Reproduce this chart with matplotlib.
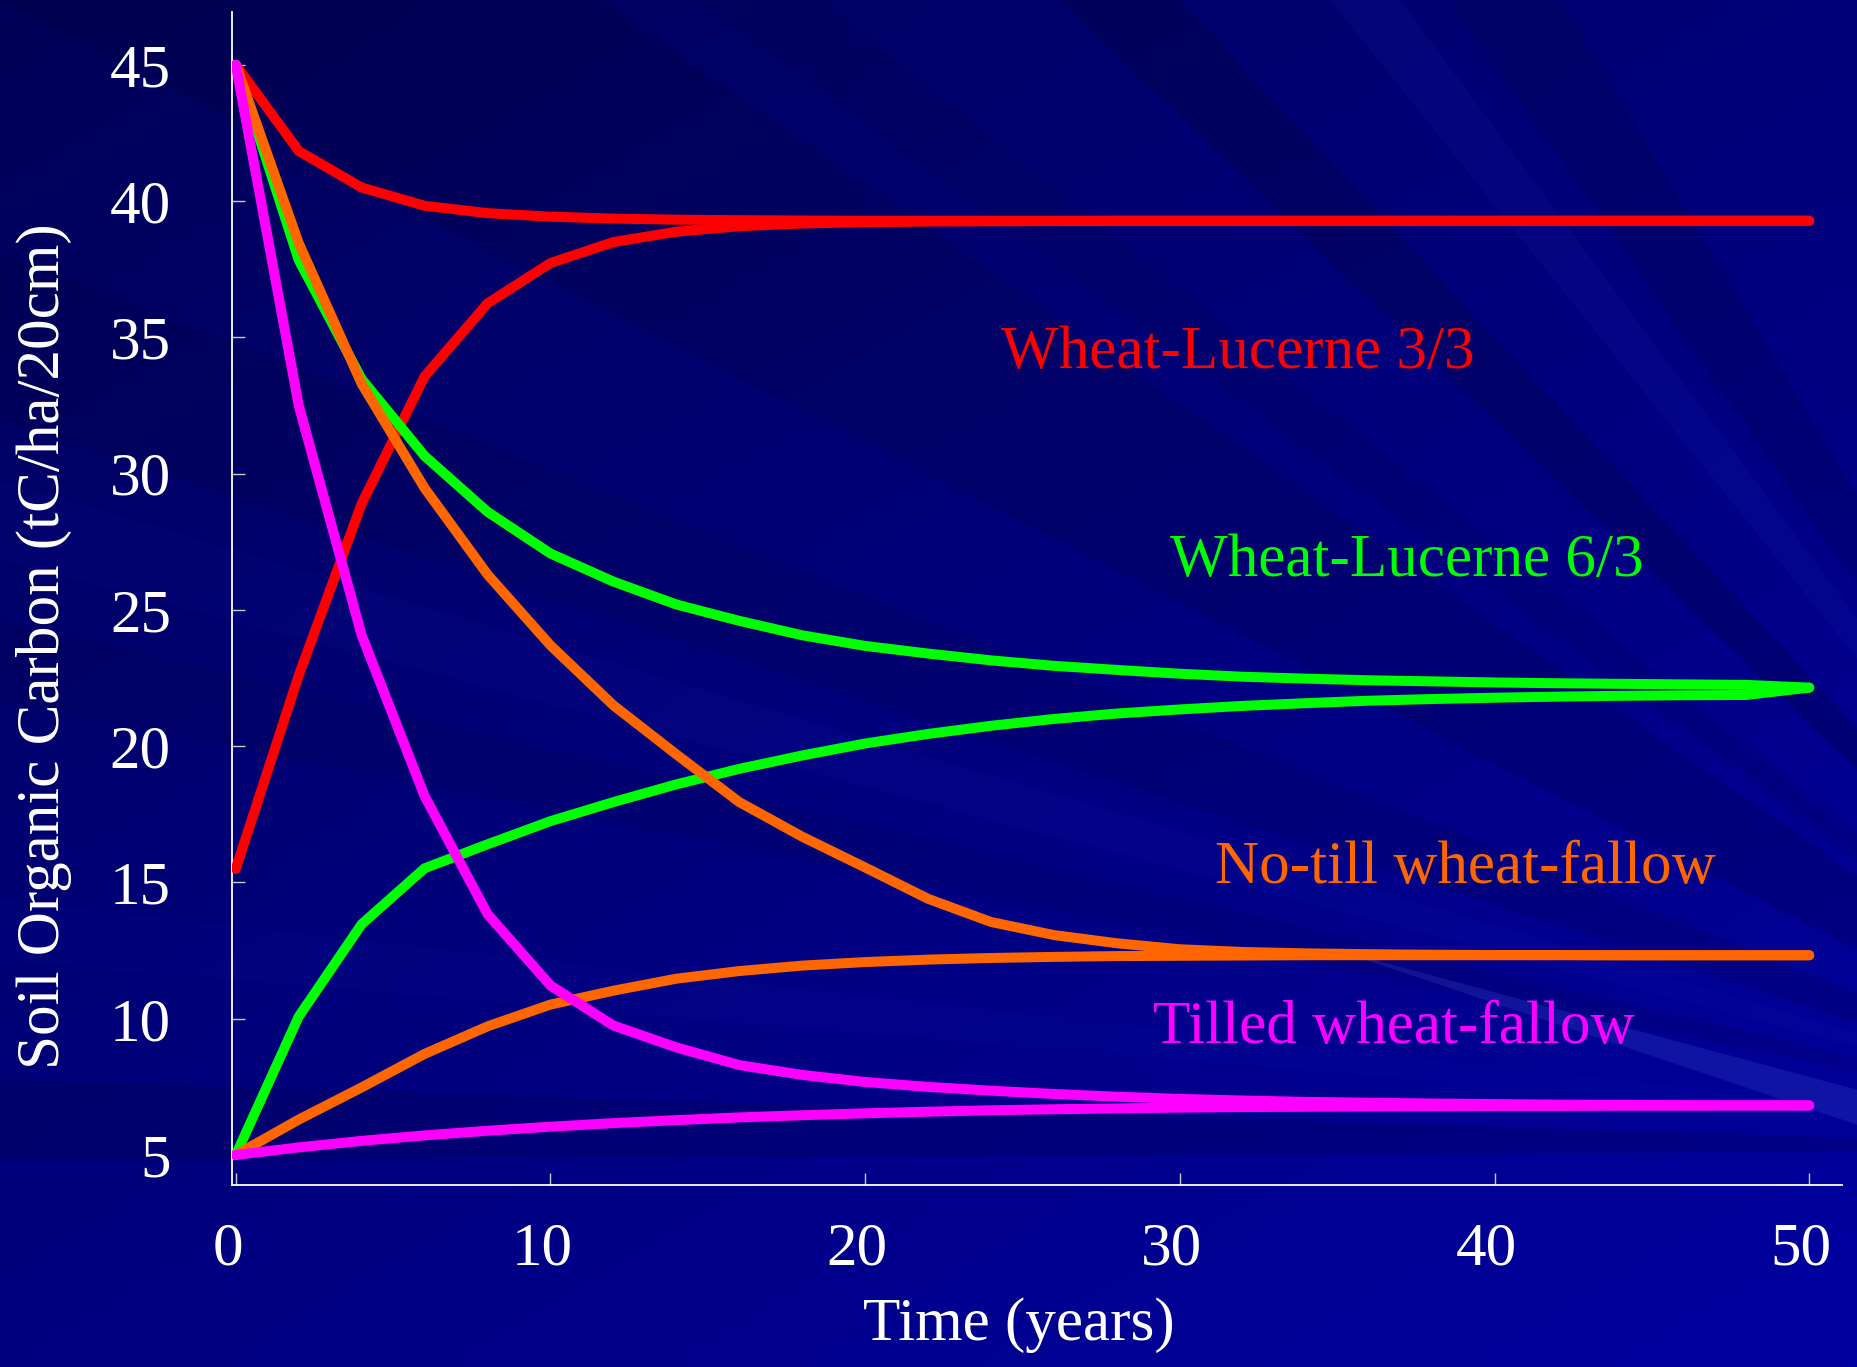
import matplotlib
matplotlib.use("Agg")
import matplotlib.pyplot as plt
import matplotlib.transforms as mtransforms
import numpy as np
from matplotlib.patches import Polygon

# ---------------- data ----------------
years = [0, 2, 4, 6, 8, 10, 12, 14, 16, 18, 20, 22, 24, 26, 28, 30, 32, 34, 36, 38, 40, 42, 44, 46, 48, 50]

wl33_from_high = [45.0, 41.84, 40.5, 39.83, 39.56, 39.43, 39.36, 39.32, 39.3, 39.29,
                  39.28, 39.28, 39.28, 39.28, 39.28, 39.28, 39.28, 39.28, 39.28, 39.28,
                  39.28, 39.28, 39.28, 39.28, 39.28, 39.28]
wl33_from_low = [15.5, 22.6, 28.9, 33.57, 36.25, 37.73, 38.5, 38.88, 39.08, 39.18,
                 39.23, 39.25, 39.26, 39.27, 39.28, 39.28, 39.28, 39.28, 39.28, 39.28,
                 39.28, 39.28, 39.28, 39.28, 39.28, 39.28]

wl63_from_high = [45.0, 37.84, 33.47, 30.65, 28.6, 27.07, 26.04, 25.2, 24.6, 24.07,
                  23.68, 23.4, 23.15, 22.95, 22.8, 22.66, 22.55, 22.48, 22.42, 22.38,
                  22.34, 22.31, 22.29, 22.27, 22.25, 22.15]
wl63_from_low = [5.0, 10.08, 13.47, 15.52, 16.4, 17.25, 17.95, 18.6, 19.17, 19.66,
                 20.1, 20.45, 20.75, 21.0, 21.2, 21.35, 21.48, 21.58, 21.67, 21.73,
                 21.78, 21.82, 21.85, 21.87, 21.88, 22.15]

notill_from_high = [45.0, 38.46, 33.3, 29.47, 26.3, 23.7, 21.5, 19.7, 17.95, 16.68,
                    15.55, 14.4, 13.55, 13.07, 12.77, 12.55, 12.45, 12.4, 12.37, 12.35,
                    12.34, 12.34, 12.33, 12.33, 12.33, 12.33]
notill_from_low = [5.0, 6.3, 7.48, 8.71, 9.72, 10.52, 11.03, 11.47, 11.75, 11.95,
                   12.08, 12.17, 12.23, 12.27, 12.3, 12.31, 12.32, 12.33, 12.33, 12.33,
                   12.33, 12.33, 12.33, 12.33, 12.33, 12.33]

tilled_from_high = [45.0, 32.5, 24.07, 18.17, 13.84, 11.22, 9.75, 8.95, 8.3, 7.94,
                    7.68, 7.5, 7.36, 7.24, 7.14, 7.06, 7.0, 6.95, 6.92, 6.89,
                    6.87, 6.85, 6.84, 6.83, 6.82, 6.82]
tilled_from_low = [5.0, 5.28, 5.52, 5.72, 5.89, 6.04, 6.17, 6.28, 6.38, 6.46,
                   6.53, 6.59, 6.64, 6.68, 6.71, 6.74, 6.76, 6.77, 6.78, 6.79,
                   6.8, 6.8, 6.81, 6.81, 6.82, 6.82]

series_names = ["Wheat-Lucerne 3/3", "Wheat-Lucerne 6/3", "No-till wheat-fallow", "Tilled wheat-fallow"]
x_ticks = [0, 10, 20, 30, 40, 50]
y_ticks = [5, 10, 15, 20, 25, 30, 35, 40, 45]

# ---------------- style ----------------
FONT = "Liberation Serif"
plt.rcParams["font.family"] = [FONT, "DejaVu Serif"]
colors = ["#FF0000", "#00FF00", "#FF6600", "#FF00FF"]
W, H = 1858, 1367

fig = plt.figure(figsize=(W / 100, H / 100), dpi=100)
fig.patch.set_facecolor("#000080")

# background: gradient + streaks
bg = fig.add_axes([0, 0, 1, 1], zorder=-10)
bg.set_xlim(0, W)
bg.set_ylim(H, 0)
bg.axis("off")
c_tl = np.array([0x00, 0x00, 0x58]) / 255
c_tr = np.array([0x00, 0x00, 0x78]) / 255
c_bl = np.array([0x00, 0x00, 0x80]) / 255
c_br = np.array([0x00, 0x00, 0xA0]) / 255
gy, gx = np.mgrid[0:1:60j, 0:1:80j]
grad = (c_tl[None, None, :] * ((1 - gx) * (1 - gy))[..., None]
        + c_tr[None, None, :] * (gx * (1 - gy))[..., None]
        + c_bl[None, None, :] * ((1 - gx) * gy)[..., None]
        + c_br[None, None, :] * (gx * gy)[..., None])
bg.imshow(grad, extent=(0, W, H, 0), aspect="auto", interpolation="bilinear")

F = (2250, 1150)
dark_wedges = [((1060, 0), (1180, 0), 0.25), ((1450, 0), (1560, 0), 0.18),
               ((0, 0), (600, 0), 0.18), ((0, 250), (0, 420), 0.15),
               ((0, 620), (0, 700), 0.12), ((0, 1080), (0, 1160), 0.18),
               ((700, 0), (820, 0), 0.12)]
for p1, p2, a in dark_wedges:
    bg.add_patch(Polygon([F, p1, p2], closed=True, facecolor="#000030", alpha=a, lw=0))
light_wedges = [((0, 480), (0, 560), 0.05), ((1330, 0), (1400, 0), 0.08),
                ((0, 900), (0, 960), 0.04)]
for p1, p2, a in light_wedges:
    bg.add_patch(Polygon([F, p1, p2], closed=True, facecolor="#3040E0", alpha=a, lw=0))
bg.add_patch(Polygon([(1330, 948), (1858, 1090), (1858, 1125)], closed=True,
                     facecolor="#4050D0", alpha=0.25, lw=0))

# main axes
ax = fig.add_axes([232 / W, (H - 1185) / H, (1842 - 232) / W, (1185 - 12) / H])
ax.set_facecolor("none")
ax.set_xlim(-0.12, 51.04)
ax.set_ylim(3.9, 46.94)

pairs = [(wl33_from_high, wl33_from_low), (wl63_from_high, wl63_from_low),
         (notill_from_high, notill_from_low), (tilled_from_high, tilled_from_low)]
for i, ((hi, lo), col) in enumerate(zip(pairs, colors)):
    for s in (hi, lo):
        ax.plot(years, s, color=col, lw=7.2, solid_capstyle="round",
                solid_joinstyle="miter", zorder=3 + i)

for sp in ("top", "right"):
    ax.spines[sp].set_visible(False)
for sp in ("left", "bottom"):
    ax.spines[sp].set_color("white")
    ax.spines[sp].set_linewidth(1.3)

ax.set_xticks(x_ticks)
ax.set_yticks(y_ticks)
ax.set_xticklabels([str(v) for v in x_ticks])
ax.set_yticklabels([str(v) for v in y_ticks])
ax.tick_params(direction="in", length=9, width=1, color="#C8C8C8",
               labelcolor="white", labelsize=44)
ax.tick_params(axis="x", pad=26.5)
ax.tick_params(axis="y", pad=44)
shift = mtransforms.ScaledTranslation(-0.08, 0, fig.dpi_scale_trans)
for lab in ax.get_xticklabels():
    lab.set_fontfamily(FONT)
    lab.set_transform(lab.get_transform() + shift)
for lab in ax.get_yticklabels():
    lab.set_fontfamily(FONT)

fig.text(1019 / W, 1 - 1325 / H, "Time (years)", color="white", fontsize=44,
         ha="center", va="center", family=FONT)
fig.text(44 / W, 1 - 646 / H, "Soil Organic Carbon (tC/ha/20cm)", color="white",
         fontsize=44, ha="center", va="center", rotation=90, family=FONT)

label_pos = [(24.32, 33.86), (29.69, 26.25), (31.12, 14.97), (29.15, 9.11)]
for name, (tx, ty), col in zip(series_names, label_pos, colors):
    ax.text(tx, ty, name, color=col, fontsize=44, ha="left", va="baseline",
            family=FONT, zorder=10)

fig.savefig("out.png", dpi=100, facecolor=fig.get_facecolor())
